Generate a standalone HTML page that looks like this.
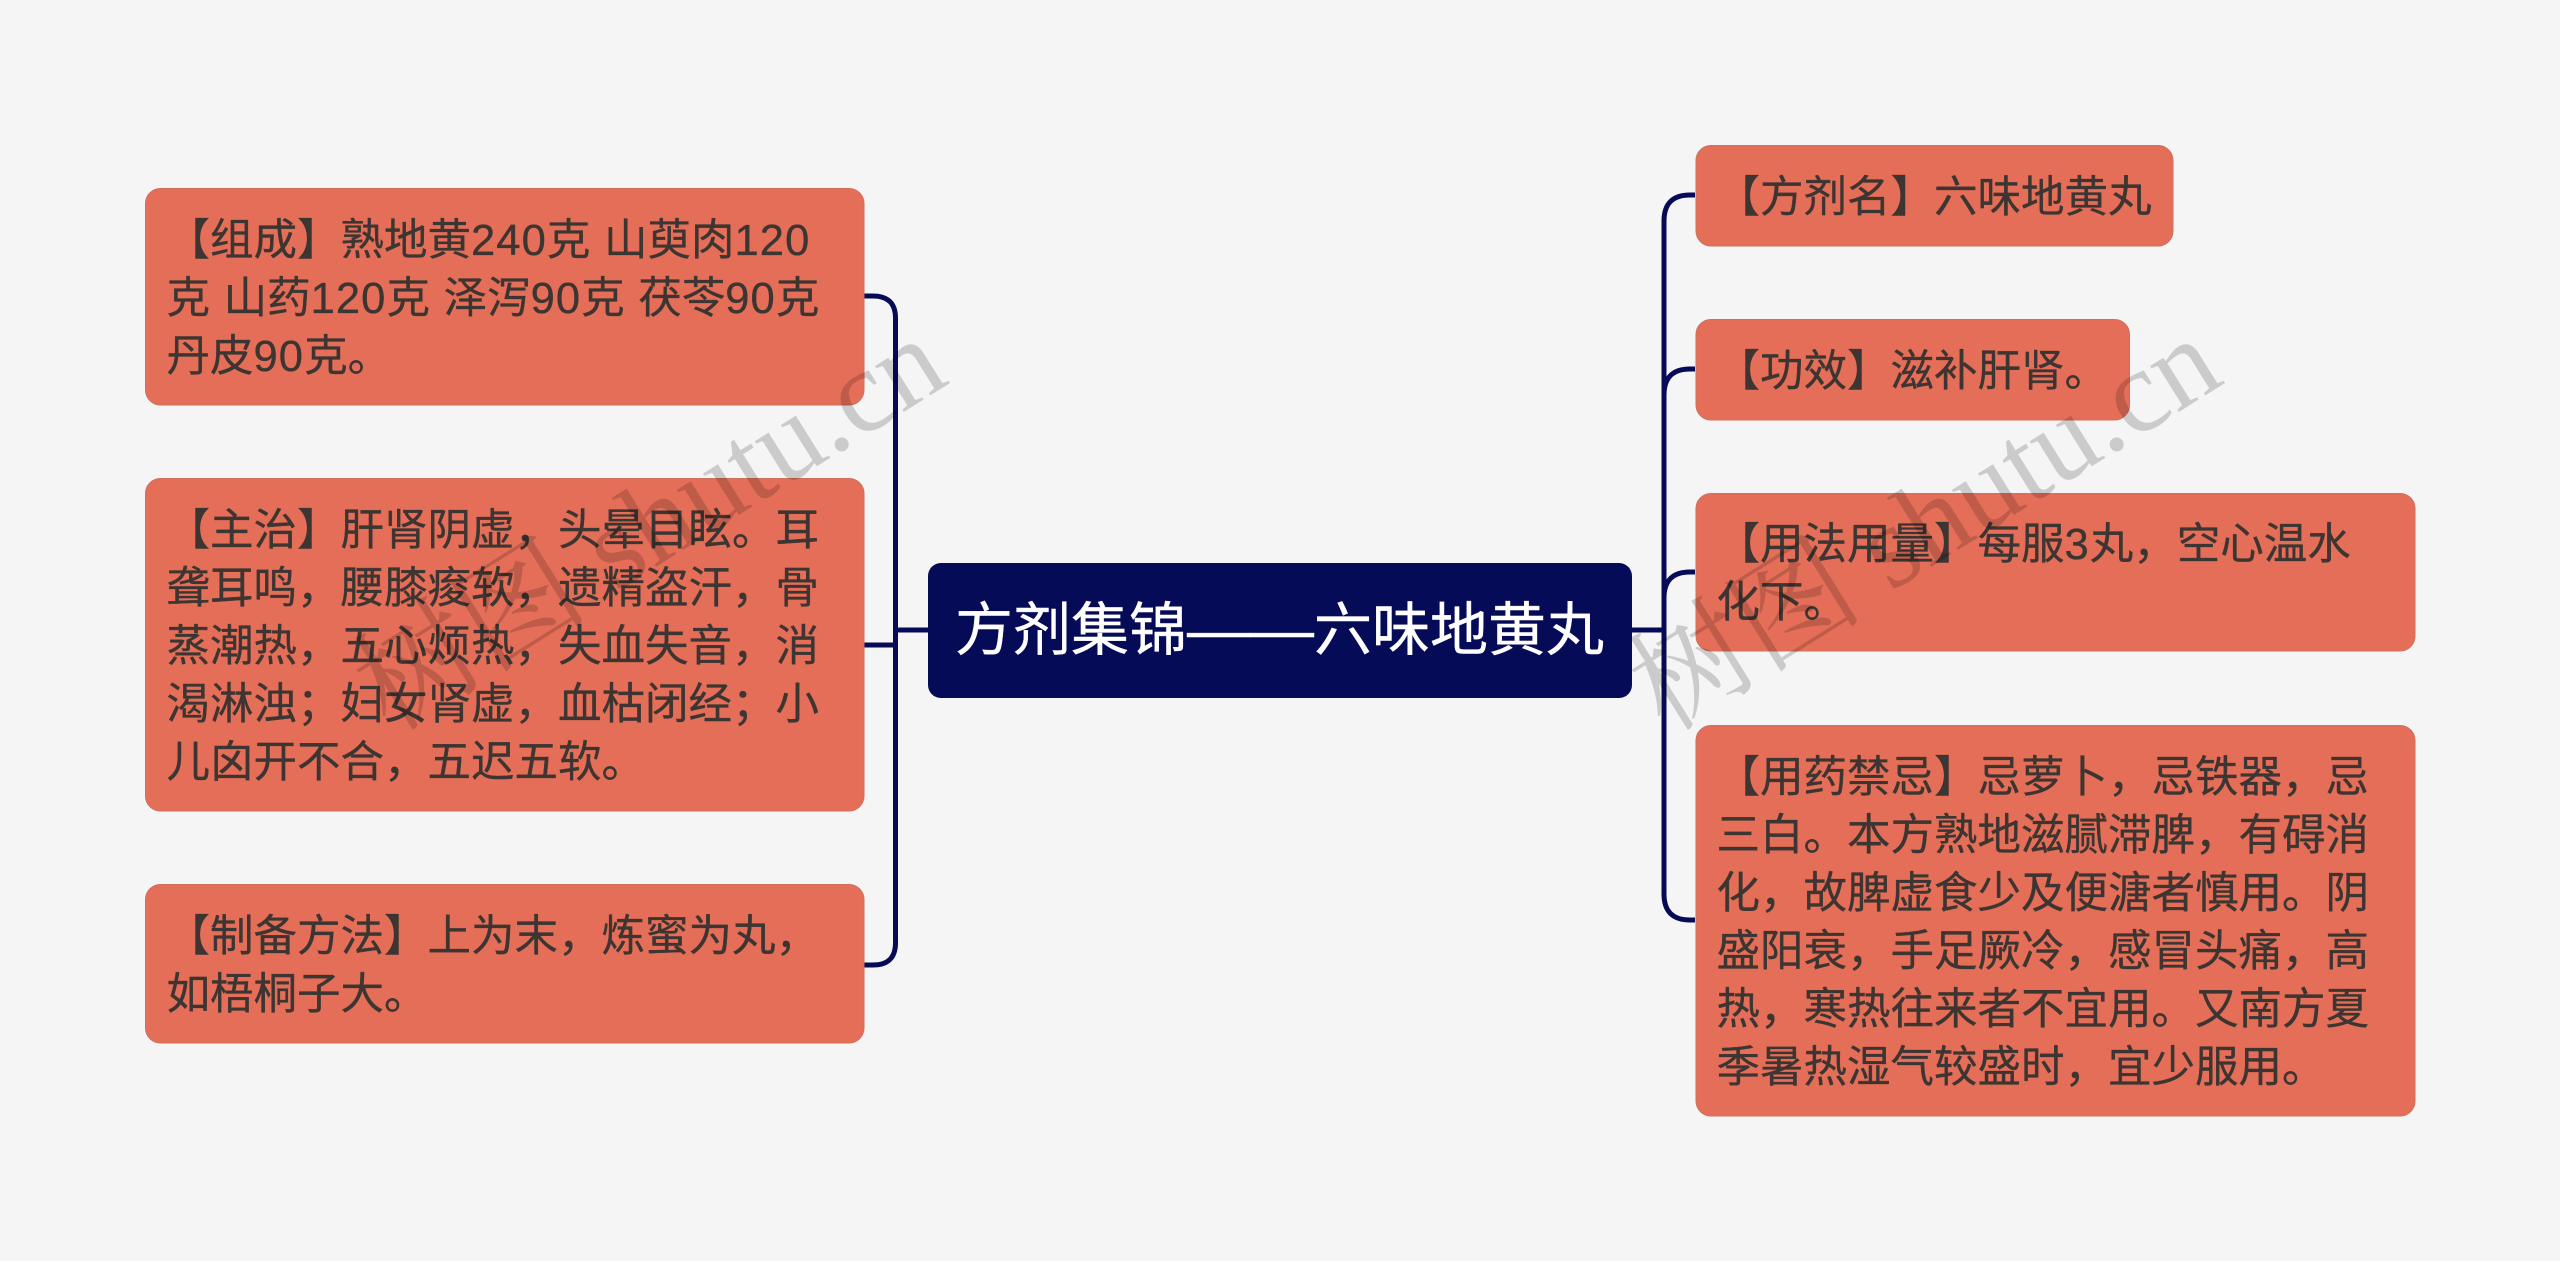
<!DOCTYPE html>
<html lang="zh-CN"><head><meta charset="utf-8"><title>方剂集锦——六味地黄丸</title>
<style>
html,body{margin:0;padding:0;width:2560px;height:1261px;overflow:hidden;background:#f5f5f6}
svg{display:block}
.t{font-family:"Liberation Sans","Noto Sans CJK SC",sans-serif;font-size:43.5px;fill:#3c3532;stroke:#3c3532;stroke-width:.35px;word-spacing:1.5px}
.n{letter-spacing:1.1px}
.r{font-family:"Liberation Sans","Noto Sans CJK SC",sans-serif;font-size:58px;fill:#fff;stroke:#fff;stroke-width:.4px}
.b{fill:#e56e58;stroke:#d0705c;stroke-width:1}
.w{font-family:"Liberation Serif","Noto Serif CJK SC",serif;font-size:118px;fill:#000;fill-opacity:.17}
</style></head><body>
<svg width="2560" height="1261" viewBox="0 0 2560 1261" xmlns="http://www.w3.org/2000/svg">
<rect width="2560" height="1261" fill="#f5f5f6"/>
<g fill="none" stroke="#060b58" stroke-width="5">
<path d="M864 296H873Q895.5 296 895.5 318V943Q895.5 965 873 965H864"/>
<path d="M864 645H895.5"/>
<path d="M895.5 630H928"/>
<path d="M1632 630H1664"/>
<path d="M1695 195H1690Q1664 195 1664 221V894Q1664 920 1690 920H1695"/>
<path d="M1695 369H1690Q1664 369 1664 395"/>
<path d="M1695 572H1690Q1664 572 1664 598"/>
</g>
<rect class="b" x="145.5" y="188.5" width="718.5" height="216.5" rx="15"/>
<rect class="b" x="145.5" y="478.5" width="718.5" height="332.5" rx="15"/>
<rect class="b" x="145.5" y="884.5" width="718.5" height="158.5" rx="15"/>
<rect x="928" y="563" width="704" height="135" rx="13" fill="#060b58"/>
<rect class="b" x="1696" y="145.5" width="477" height="100.5" rx="15"/>
<rect class="b" x="1696" y="319.5" width="433.5" height="100.5" rx="15"/>
<rect class="b" x="1696" y="493.5" width="719" height="157.5" rx="15"/>
<rect class="b" x="1696" y="725.5" width="719" height="390.5" rx="15"/>

<text class="t" x="166.5" y="255">【组成】熟地黄<tspan class="n">240</tspan>克 山萸肉<tspan class="n">120</tspan></text>
<text class="t" x="166.5" y="313">克 山药<tspan class="n">120</tspan>克 泽泻<tspan class="n">90</tspan>克 茯苓<tspan class="n">90</tspan>克</text>
<text class="t" x="166.5" y="371">丹皮<tspan class="n">90</tspan>克。</text>

<text class="t" x="166.5" y="545">【主治】肝肾阴虚，头晕目眩。耳</text>
<text class="t" x="166.5" y="603">聋耳鸣，腰膝痠软，遗精盗汗，骨</text>
<text class="t" x="166.5" y="661">蒸潮热，五心烦热，失血失音，消</text>
<text class="t" x="166.5" y="719">渴淋浊；妇女肾虚，血枯闭经；小</text>
<text class="t" x="166.5" y="777">儿囟开不合，五迟五软。</text>

<text class="t" x="166.5" y="951">【制备方法】上为末，炼蜜为丸，</text>
<text class="t" x="166.5" y="1009">如梧桐子大。</text>

<text class="r" x="955" y="650">方剂集锦</text>
<text class="r" x="1187" y="650" textLength="127" lengthAdjust="spacingAndGlyphs">——</text>
<text class="r" x="1314" y="650">六味地黄丸</text>

<text class="t" x="1716.5" y="212">【方剂名】六味地黄丸</text>
<text class="t" x="1716.5" y="386">【功效】滋补肝肾。</text>
<text class="t" x="1716.5" y="559">【用法用量】每服<tspan class="n">3</tspan>丸，空心温水</text>
<text class="t" x="1716.5" y="617">化下。</text>

<text class="t" x="1716.5" y="792">【用药禁忌】忌萝卜，忌铁器，忌</text>
<text class="t" x="1716.5" y="850">三白。本方熟地滋腻滞脾，有碍消</text>
<text class="t" x="1716.5" y="908">化，故脾虚食少及便溏者慎用。阴</text>
<text class="t" x="1716.5" y="966">盛阳衰，手足厥冷，感冒头痛，高</text>
<text class="t" x="1716.5" y="1024">热，寒热往来者不宜用。又南方夏</text>
<text class="t" x="1716.5" y="1082">季暑热湿气较盛时，宜少服用。</text>

<text class="w" transform="translate(390 733) rotate(-32)">树图 shutu.cn</text>
<text class="w" transform="translate(1665 733) rotate(-32)">树图 shutu.cn</text>
</svg>
</body></html>
